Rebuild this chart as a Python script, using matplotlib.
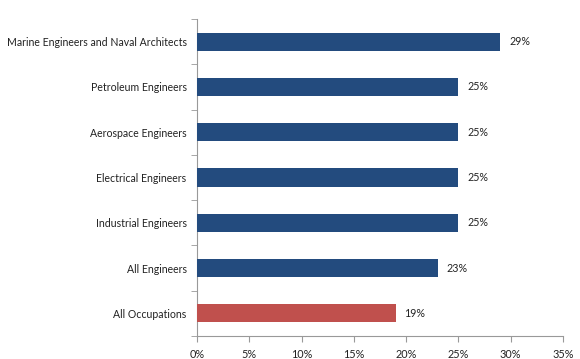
import matplotlib
matplotlib.use("Agg")
import matplotlib.pyplot as plt
from matplotlib.ticker import FuncFormatter, FixedLocator

categories = ["Marine Engineers and Naval Architects", "Petroleum Engineers",
              "Aerospace Engineers", "Electrical Engineers", "Industrial Engineers",
              "All Engineers", "All Occupations"]
values = [29, 25, 25, 25, 25, 23, 19]
bar_colors = ["#234B7E"] * 6 + ["#C0504D"]
xticks = [0, 5, 10, 15, 20, 25, 30, 35]

plt.rcParams['font.family'] = ['Lato', 'DejaVu Sans']

fig = plt.figure(figsize=(5.8, 3.59), dpi=100)
ax = fig.add_axes([197/580, 1-336/359, (563-197)/580, (336-19)/359])

n = len(categories)
ypos = list(range(n))
ax.barh(ypos, values, height=0.4, color=bar_colors, edgecolor="none", zorder=3)
for y, v in zip(ypos, values):
    ax.text(v + 0.85, y, f"{v}%", va="center", ha="left", fontsize=7.7, color="#222222")

ax.set_ylim(n - 0.5, -0.5)
ax.set_xlim(0, 35)
ax.set_yticks(ypos)
ax.set_yticklabels(categories, fontsize=7.6, color="#222222")
ax.yaxis.set_minor_locator(FixedLocator([i - 0.5 for i in range(n + 1)]))
ax.tick_params(axis="y", which="major", length=0, pad=7.5)
ax.tick_params(axis="y", which="minor", length=4, color="#999999", direction="out")
ax.set_xticks(xticks)
ax.xaxis.set_major_formatter(FuncFormatter(lambda v, p: f"{v:.0f}%"))
ax.tick_params(axis="x", length=4, color="#999999", direction="out", labelsize=7.8,
               labelcolor="#222222", pad=5)
for s in ["top", "right"]:
    ax.spines[s].set_visible(False)
for s in ["left", "bottom"]:
    ax.spines[s].set_color("#999999")
    ax.spines[s].set_linewidth(0.8)

fig.savefig("out.png", dpi=100, facecolor="white")
